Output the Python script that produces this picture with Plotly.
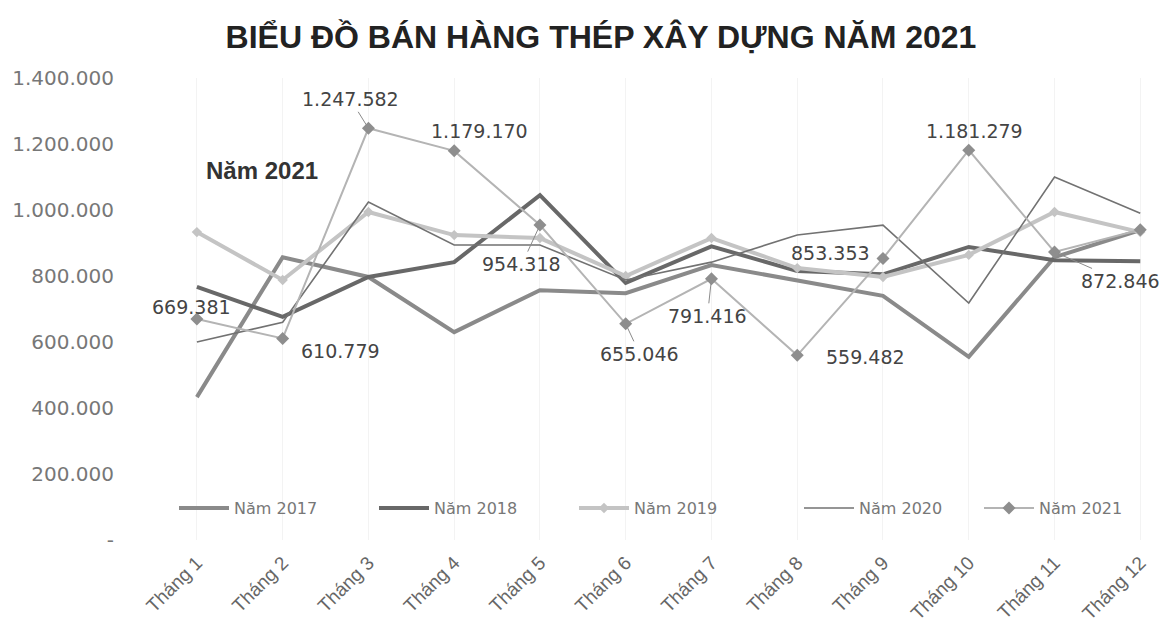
import plotly.graph_objects as go

months = ["Tháng 1", "Tháng 2", "Tháng 3", "Tháng 4", "Tháng 5", "Tháng 6",
          "Tháng 7", "Tháng 8", "Tháng 9", "Tháng 10", "Tháng 11", "Tháng 12"]

y2017 = [433000, 857000, 797000, 630000, 757000, 748000, 833000, 785000, 740000, 555000, 857000, 939000]
y2018 = [767000, 676000, 797000, 842000, 1045000, 779000, 890000, 815000, 805000, 888000, 848000, 845000]
y2019 = [933000, 788000, 994000, 924000, 915000, 800000, 915000, 824000, 797000, 864000, 994000, 933000]
y2020 = [600000, 660000, 1024000, 894000, 894000, 788000, 842000, 924000, 954000, 718000, 1100000, 990000]
y2021 = [669381, 610779, 1247582, 1179170, 954318, 655046, 791416, 559482, 853353, 1181279, 872846, 940000]

# months of 2021 that carry a data label
label_idx = [0, 1, 2, 3, 4, 5, 6, 7, 8, 9, 10]

y_tickvals = [0, 200000, 400000, 600000, 800000, 1000000, 1200000, 1400000]
y_ticktext = ["-", "200.000", "400.000", "600.000", "800.000", "1.000.000", "1.200.000", "1.400.000"]

title_text = "BIỂU ĐỒ BÁN HÀNG THÉP XÂY DỰNG NĂM 2021"
note_text = "Năm 2021"


def fmt(v):
    return f"{v:,}".replace(",", ".")


fig = go.Figure()
fig.add_trace(go.Scatter(x=months, y=y2017, name="Năm 2017", mode="lines", legend="legend",
                         line=dict(color="#8a8a8a", width=4)))
fig.add_trace(go.Scatter(x=months, y=y2018, name="Năm 2018", mode="lines", legend="legend2",
                         line=dict(color="#686868", width=4)))
fig.add_trace(go.Scatter(x=months, y=y2019, name="Năm 2019", mode="lines+markers", legend="legend3",
                         line=dict(color="#c4c4c4", width=4),
                         marker=dict(symbol="diamond", size=8, color="#c4c4c4")))
fig.add_trace(go.Scatter(x=months, y=y2020, name="Năm 2020", mode="lines", legend="legend4",
                         line=dict(color="#727272", width=1.6)))
fig.add_trace(go.Scatter(x=months, y=y2021, name="Năm 2021", mode="lines+markers", legend="legend5",
                         line=dict(color="#b4b4b4", width=2),
                         marker=dict(symbol="diamond", size=10, color="#8e8e8e")))

# label offsets in pixels (dx right, dy down) and whether a leader line is drawn
offsets = {
    0: (-5, -12, False),
    1: (58, 13, False),
    2: (-18, -29, True),
    3: (25, -20, False),
    4: (-18, 39, True),
    5: (14, 30, True),
    6: (-4, 37, True),
    7: (68, 2, False),
    8: (-52, -5, False),
    9: (6, -19, False),
    10: (66, 29, True),
}

label_font = dict(family="DejaVu Sans", size=19, color="#444444")
annotations = []
for i in label_idx:
    dx, dy, arrow = offsets[i]
    if arrow:
        annotations.append(dict(x=months[i], y=y2021[i], xref="x", yref="y",
                                text=fmt(y2021[i]), showarrow=True, ax=dx, ay=dy,
                                arrowhead=0, arrowwidth=1, arrowcolor="#8a8a8a",
                                standoff=4, startstandoff=0, font=label_font))
    else:
        annotations.append(dict(x=months[i], y=y2021[i], xref="x", yref="y",
                                text=fmt(y2021[i]), showarrow=False,
                                xanchor="center", yanchor="middle",
                                xshift=dx, yshift=-dy, font=label_font))

annotations.append(dict(x=0.128, y=0.80, xref="paper", yref="paper",
                        xanchor="center", yanchor="middle",
                        text="<b>" + note_text + "</b>", showarrow=False,
                        font=dict(family="Liberation Sans", size=24, color="#333333")))

leg_common = dict(orientation="h", y=0.069, xanchor="left", yanchor="middle",
                  font=dict(family="DejaVu Sans", size=16, color="#777777"),
                  itemwidth=50, bgcolor="rgba(0,0,0,0)")
leg_starts = [170, 370, 570, 795, 975]  # left edges of the legend entries, px
leg_x = [(p - 126) / 1030 for p in leg_starts]

fig.update_layout(
    width=1168, height=631,
    margin=dict(l=122, r=16, t=70, b=99),
    paper_bgcolor="white", plot_bgcolor="white",
    title=dict(text="<b>" + title_text + "</b>", x=593 / 1168, xanchor="center",
               y=1 - 29 / 631, yanchor="middle", yref="container",
               font=dict(family="Liberation Sans", size=32, color="#222222")),
    showlegend=True,
    legend=dict(x=leg_x[0], **leg_common),
    legend2=dict(x=leg_x[1], **leg_common),
    legend3=dict(x=leg_x[2], **leg_common),
    legend4=dict(x=leg_x[3], **leg_common),
    legend5=dict(x=leg_x[4], **leg_common),
    annotations=annotations,
)

fig.update_xaxes(type="category", range=[-0.78, 11.23], tickangle=-45, automargin=False,
                 showline=False, showgrid=True, gridcolor="#f3f3f3", ticks="",
                 ticklabelstandoff=7,
                 tickfont=dict(family="Liberation Sans", size=19, color="#666666"))
fig.update_yaxes(range=[0, 1400000], tickvals=y_tickvals, ticktext=y_ticktext, automargin=False,
                 showgrid=False, zeroline=False, showline=False, ticks="",
                 ticklabelstandoff=15,
                 tickfont=dict(family="DejaVu Sans", size=20, color="#777777"))

fig.write_html("out.html")
